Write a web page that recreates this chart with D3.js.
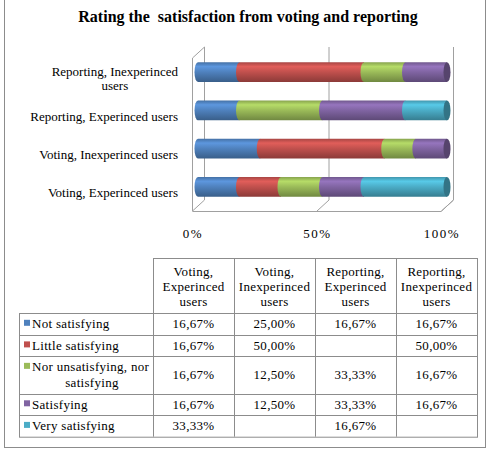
<!DOCTYPE html>
<html lang="en">
<head>
<meta charset="UTF-8">
<title>Rating the satisfaction</title>
<script src="https://d3js.org/d3.v7.min.js"></script>
<style>
  body { margin: 0; background: #fff; }
  text { font-family: "Liberation Serif", "Times New Roman", serif; fill: #000; }
</style>
</head>
<body>
<script>

// data
const categories = ['Voting, Experinced users', 'Voting, Inexperinced users',
                    'Reporting, Experinced users', 'Reporting, Inexperinced users'];
const seriesNames = ['Not satisfying', 'Little satisfying', 'Nor unsatisfying, nor satisfying',
                     'Satisfying', 'Very satisfying'];
const notSatisfying    = [16.67, 25.00, 16.67, 16.67];
const littleSatisfying = [16.67, 50.00, null, 50.00];
const neutral          = [16.67, 12.50, 33.33, 16.67];
const satisfying       = [16.67, 12.50, 33.33, 16.67];
const verySatisfying   = [33.33, null, 16.67, null];
const seriesValues = [notSatisfying, littleSatisfying, neutral, satisfying, verySatisfying];
const colors = ['#4f81bd', '#c0504d', '#9bbb59', '#8064a2', '#4bacc6'];
const tickValues = [0, 0.5, 1];

const W = 492, H = 454;
const svg = d3.select('body').append('svg').attr('width', W).attr('height', H);

// outer frame
svg.append('rect')
    .attr('x', 4.5).attr('y', -10).attr('width', 481).attr('height', 457.5)
    .attr('fill', 'none').attr('stroke', '#8c8c8c');

svg.append('text')
    .attr('x', 248).attr('y', 22)
    .attr('text-anchor', 'middle')
    .style('font-size', '16px').style('font-weight', 'bold')
    .attr('xml:space', 'preserve')
    .text('Rating the  satisfaction from voting and reporting');

// scales (3d: back wall, front edge, bars in between)
const xBack = d3.scaleLinear().domain([0, 1]).range([204, 453]);
const xFront = d3.scaleLinear().domain([0, 1]).range([192, 441]);
const xBar = d3.scaleLinear().domain([0, 100]).range([198, 447]);
const y = d3.scaleBand().domain(categories.slice().reverse()).range([53, 206])
    .paddingInner(0.48).paddingOuter(0.24);
const wallTop = 47, floorBack = 200, floorFront = 211;

const grid = svg.append('g').attr('stroke', '#a0a0a0').attr('fill', 'none');
tickValues.forEach(t => {
    grid.append('path').attr('d', `M${xBack(t) + 0.5},${wallTop} V${floorBack} L${xFront(t) + 0.5},${floorFront}`);
});
grid.append('path').attr('d', `M${xFront(0) + 0.5},${floorFront + 0.5} H${xFront(1)} L${xBack(1) + 0.5},${floorBack}`);
grid.append('path').attr('d', `M${xFront(0) + 0.5},${floorFront} V58 L${xBack(0) + 0.5},${wallTop}`);

// gradients for cylinders
const defs = svg.append('defs');
colors.forEach((c, i) => {
    const g = defs.append('linearGradient').attr('id', 'cyl' + i)
        .attr('x1', 0).attr('y1', 0).attr('x2', 0).attr('y2', 1);
    g.append('stop').attr('offset', 0).attr('stop-color', d3.color(c).darker(0.4));
    g.append('stop').attr('offset', 0.22).attr('stop-color', d3.color(c).brighter(0.45));
    g.append('stop').attr('offset', 0.5).attr('stop-color', c);
    g.append('stop').attr('offset', 1).attr('stop-color', d3.color(c).darker(0.9));
});

const stack = d3.stack().keys(d3.range(seriesNames.length)).value((d, k) => seriesValues[k][d] || 0);
const stacked = stack(d3.range(categories.length));

const rx = 3.5;
const bars = svg.append('g');
stacked.forEach((layer, k) => {
    bars.selectAll(null)
        .data(layer.filter(d => d[1] > d[0]))
        .join('path')
        .attr('fill', `url(#cyl${k})`)
        .attr('d', d => {
            const x0 = xBar(d[0]), x1 = xBar(d[1]);
            const top = y(categories[d.data]), bot = top + y.bandwidth();
            return `M${x0},${top} L${x1},${top} L${x1},${bot} L${x0},${bot} A${rx},${y.bandwidth() / 2} 0 0 1 ${x0},${top} Z`;
        });
});
// end caps
categories.forEach((c, i) => {
    const lastK = d3.max(seriesValues.map((s, k) => s[i] ? k : -1));
    bars.append('ellipse')
        .attr('cx', xBar(100)).attr('cy', y(c) + y.bandwidth() / 2)
        .attr('rx', rx).attr('ry', y.bandwidth() / 2)
        .attr('fill', d3.color(colors[lastK]).darker(1.1));
});

// category labels
const catLabels = svg.append('g').style('font-size', '13px');
categories.forEach(c => {
    const cy = y(c) + y.bandwidth() / 2 + 6;
    const t = catLabels.append('text').attr('x', 178).attr('y', cy + 4.5)
        .attr('text-anchor', 'end').text(c);
    if (t.node().getComputedTextLength() > 150) {
        const words = c.split(' ');
        const last = words.pop();
        t.attr('y', cy - 2.5).text(words.join(' '));
        const w = t.node().getComputedTextLength();
        catLabels.append('text').attr('x', 178 - w / 2).attr('y', cy + 11.5)
            .attr('text-anchor', 'middle').text(last);
    }
});

// percent axis
svg.append('g').selectAll('text').data(tickValues).join('text')
    .attr('x', d => xFront(d) + 1).attr('y', 238)
    .attr('text-anchor', 'middle')
    .style('font-size', '13px').style('letter-spacing', '1.5px')
    .text(d3.format('.0%'));

// data table
const tableTop = 258, headBottom = 313, legendLeft = 19;
const col = d3.scaleBand().domain(categories).range([153, 477]);
const rowH = seriesNames.map(s => s.length > 20 ? 37.3 : 21.6);
const rowY = [headBottom];
rowH.forEach(h => rowY.push(rowY[rowY.length - 1] + h));
const fmt = v => v == null ? '' : d3.format('.2f')(v).replace('.', ',') + '%';

const table = svg.append('g');
const lines = table.append('g').attr('stroke', '#8c8c8c').attr('fill', 'none');
lines.append('rect').attr('x', col.range()[0] + 0.5).attr('y', tableTop + 0.5)
    .attr('width', col.range()[1] - col.range()[0]).attr('height', headBottom - tableTop);
lines.append('rect').attr('x', legendLeft + 0.5).attr('y', headBottom + 0.5)
    .attr('width', col.range()[1] - legendLeft).attr('height', rowY[rowY.length - 1] - headBottom);
categories.forEach(c => {
    lines.append('line').attr('x1', col(c) + 0.5).attr('x2', col(c) + 0.5)
        .attr('y1', tableTop).attr('y2', rowY[rowY.length - 1]);
});
rowY.slice(1, -1).forEach(r => {
    lines.append('line').attr('x1', legendLeft).attr('x2', col.range()[1])
        .attr('y1', Math.round(r) + 0.5).attr('y2', Math.round(r) + 0.5);
});

const txt = table.append('g').style('font-size', '13px').style('letter-spacing', '0.3px');
categories.forEach(c => {
    c.split(' ').forEach((w, j) => {
        txt.append('text').attr('x', col(c) + col.bandwidth() / 2).attr('y', 276 + j * 15)
            .attr('text-anchor', 'middle').text(w);
    });
});
seriesNames.forEach((s, k) => {
    const mid = (rowY[k] + rowY[k + 1]) / 2;
    const two = rowH[k] > 30;
    const firstY = two ? mid - 8 : mid;
    table.append('rect').attr('x', 24).attr('y', firstY - 4).attr('width', 6).attr('height', 6)
        .attr('fill', colors[k]);
    if (two) {
        txt.append('text').attr('x', 32).attr('y', firstY + 4.5).text('Nor unsatisfying, nor');
        txt.append('text').attr('x', 92).attr('y', mid + 12.5).attr('text-anchor', 'middle').text('satisfying');
    } else {
        txt.append('text').attr('x', 32).attr('y', mid + 4.5).text(s);
    }
    categories.forEach((c, i) => {
        txt.append('text').attr('x', col(c) + col.bandwidth() / 2).attr('y', mid + 4.5)
            .attr('text-anchor', 'middle').text(fmt(seriesValues[k][i]));
    });
});

</script>
</body>
</html>
